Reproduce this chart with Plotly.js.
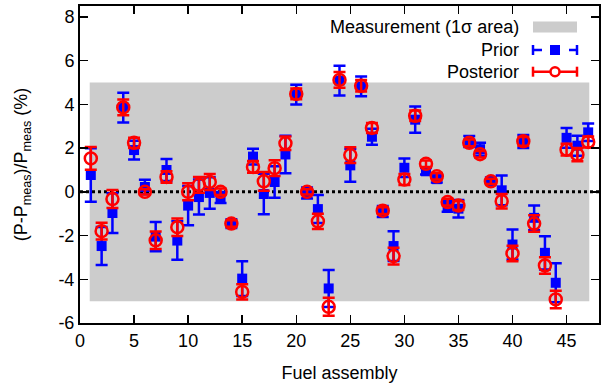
<!DOCTYPE html>
<html>
<head>
<meta charset="utf-8">
<script src="https://cdn.plot.ly/plotly-3.0.1.min.js"></script>
<style>html,body{margin:0;padding:0;background:#fff}#chart{width:611px;height:386px}</style>
</head>
<body>
<div id="chart"></div>
<script>
// Fuel assembly index
const assembly = [1,2,3,4,5,6,7,8,9,10,11,12,13,14,15,16,17,18,19,20,21,22,23,24,25,26,27,28,29,30,31,32,33,34,35,36,37,38,39,40,41,42,43,44,45,46,47];
// Prior deviation (%) and 1-sigma uncertainty
const priorVal = [0.77,-2.48,-0.97,3.85,1.91,0.22,-2.05,1.0,-2.23,-0.63,-0.24,-0.05,-0.26,-1.45,-3.97,1.61,-0.1,0.45,1.71,4.45,-0.05,-0.79,-4.42,5.09,1.21,4.82,2.52,-0.9,-2.48,1.1,3.3,0.94,0.58,-0.66,-0.77,2.3,1.95,0.5,0.07,-2.41,2.3,-1.19,-2.79,-4.16,2.47,2.11,2.72];
const priorErr = [1.22,0.87,0.91,0.68,0.43,0.33,0.67,0.5,0.88,0.9,0.8,0.72,0.25,0.2,0.8,0.36,0.93,0.72,0.86,0.45,0.25,0.64,0.85,0.68,0.75,0.45,0.37,0.25,0.68,0.42,0.6,0.15,0.15,0.25,0.4,0.25,0.3,0.15,0.68,0.69,0.3,0.57,0.76,0.89,0.45,0.46,0.4];
// Posterior deviation (%) and 1-sigma uncertainty
const postVal = [1.53,-1.8,-0.33,3.86,2.24,0.0,-2.22,0.68,-1.62,0.0,0.32,0.45,0.0,-1.45,-4.58,1.14,0.48,1.08,2.22,4.48,0.0,-1.35,-5.26,5.12,1.68,4.85,2.92,-0.86,-2.94,0.56,3.48,1.28,0.71,-0.47,-0.63,2.24,1.72,0.48,-0.43,-2.82,2.31,-1.45,-3.37,-4.92,1.93,1.7,2.28];
const postErr = [0.52,0.38,0.41,0.36,0.23,0.12,0.4,0.26,0.4,0.39,0.36,0.37,0.15,0.15,0.35,0.27,0.43,0.36,0.31,0.25,0.12,0.35,0.41,0.36,0.36,0.26,0.23,0.15,0.38,0.25,0.24,0.15,0.15,0.15,0.2,0.15,0.15,0.12,0.33,0.35,0.2,0.38,0.38,0.4,0.27,0.3,0.25];
// Measurement 1-sigma band
const measX = [0.9, 47.1];
const measLo = [-5, -5];
const measHi = [5, 5];
// Axis ticks
const xTicks = [0,5,10,15,20,25,30,35,40,45];
const yTicks = [-6,-4,-2,0,2,4,6,8];
const yTickText = ['-6','-4','-2','0','2','4','6','8'];
const zeroLineX = [0, 48];
const zeroLineY = [0, 0];

const font = {family: 'Liberation Sans, Arial, sans-serif', size: 18, color: '#000'};

const band = {
  x: [measX[0], measX[1], measX[1], measX[0], measX[0]],
  y: [measLo[0], measLo[1], measHi[1], measHi[0], measLo[0]],
  type: 'scatter', mode: 'lines', fill: 'toself', fillcolor: '#cccccc',
  line: {width: 0, color: '#cccccc'}, hoverinfo: 'skip', showlegend: false
};
const zero = {
  x: zeroLineX, y: zeroLineY, type: 'scatter', mode: 'lines',
  line: {color: '#000', width: 3, dash: 'dot'}, showlegend: false, hoverinfo: 'skip'
};
const prior = {
  x: assembly, y: priorVal, type: 'scatter', mode: 'markers', name: 'Prior',
  marker: {symbol: 'square', size: 10, color: '#0000ff'},
  error_y: {type: 'data', array: priorErr, visible: true, color: '#0000ff', thickness: 2.5, width: 6},
  showlegend: false
};
const post = {
  x: assembly, y: postVal, type: 'scatter', mode: 'markers', name: 'Posterior',
  marker: {symbol: 'circle-open', size: 12, color: '#ff0000', line: {width: 2.5, color: '#ff0000'}},
  error_y: {type: 'data', array: postErr, visible: true, color: '#ff0000', thickness: 2.5, width: 6},
  showlegend: false
};

// legend geometry (paper coords)
const px = v => (v - 80) / 519;
const py = v => (323 - v) / 317;
const lx0 = px(533), lx1 = px(577);
const shapes = [
  {type:'rect', xref:'paper', yref:'paper', x0:lx0, x1:lx1, y0:py(32.5), y1:py(21.5), fillcolor:'#cccccc', line:{width:0}},
  {type:'line', xref:'paper', yref:'paper', x0:lx0, x1:lx1, y0:py(50), y1:py(50), line:{color:'#0000ff', width:2.5, dash:'dash'}},
  {type:'line', xref:'paper', yref:'paper', x0:lx0, x1:lx0, y0:py(45), y1:py(55), line:{color:'#0000ff', width:2.5}},
  {type:'line', xref:'paper', yref:'paper', x0:lx1, x1:lx1, y0:py(45), y1:py(55), line:{color:'#0000ff', width:2.5}},
  {type:'rect', xref:'paper', yref:'paper', x0:px(550), x1:px(560), y0:py(55), y1:py(45), fillcolor:'#0000ff', line:{width:0}},
  {type:'line', xref:'paper', yref:'paper', x0:lx0, x1:lx1, y0:py(71.7), y1:py(71.7), line:{color:'#ff0000', width:2.5}},
  {type:'line', xref:'paper', yref:'paper', x0:lx0, x1:lx0, y0:py(66.7), y1:py(76.7), line:{color:'#ff0000', width:2.5}},
  {type:'line', xref:'paper', yref:'paper', x0:lx1, x1:lx1, y0:py(66.7), y1:py(76.7), line:{color:'#ff0000', width:2.5}},
  {type:'circle', xref:'paper', yref:'paper', x0:px(550.5), x1:px(559.5), y0:py(76.2), y1:py(67.2), fillcolor:'#ffffff', line:{color:'#ff0000', width:2.5}}
];
const annotations = [
  {xref:'paper', yref:'paper', x:px(521), y:py(26.7), xanchor:'right', yanchor:'middle', text:'Measurement (1σ area)', showarrow:false, font:font},
  {xref:'paper', yref:'paper', x:px(521), y:py(50), xanchor:'right', yanchor:'middle', text:'Prior', showarrow:false, font:font},
  {xref:'paper', yref:'paper', x:px(521), y:py(71.7), xanchor:'right', yanchor:'middle', text:'Posterior', showarrow:false, font:font}
];

const layout = {
  width: 611, height: 386,
  margin: {l: 80, r: 12, t: 6, b: 63},
  paper_bgcolor: '#fff', plot_bgcolor: '#fff',
  font: font,
  showlegend: false,
  xaxis: {
    range: [0, 48], tickvals: xTicks, ticks: 'inside', ticklen: 8, tickwidth: 1.5, tickcolor: '#000',
    showline: true, linewidth: 2, linecolor: '#000', mirror: 'ticks', showgrid: false, zeroline: false,
    title: {text: 'Fuel assembly', font: font, standoff: 17}, tickfont: font
  },
  yaxis: {
    range: [-6, 8.5], tickvals: yTicks, ticktext: yTickText, ticks: 'inside', ticklen: 8, tickwidth: 1.5, tickcolor: '#000',
    showline: true, linewidth: 2, linecolor: '#000', mirror: 'ticks', showgrid: false, zeroline: false,
    title: {text: '(P-P<sub>meas</sub>)/P<sub>meas</sub> (%)', font: font, standoff: 26}, tickfont: font
  },
  shapes: shapes,
  annotations: annotations
};

Plotly.newPlot('chart', [band, zero, prior, post], layout, {staticPlot: true, displayModeBar: false});
</script>
</body>
</html>
